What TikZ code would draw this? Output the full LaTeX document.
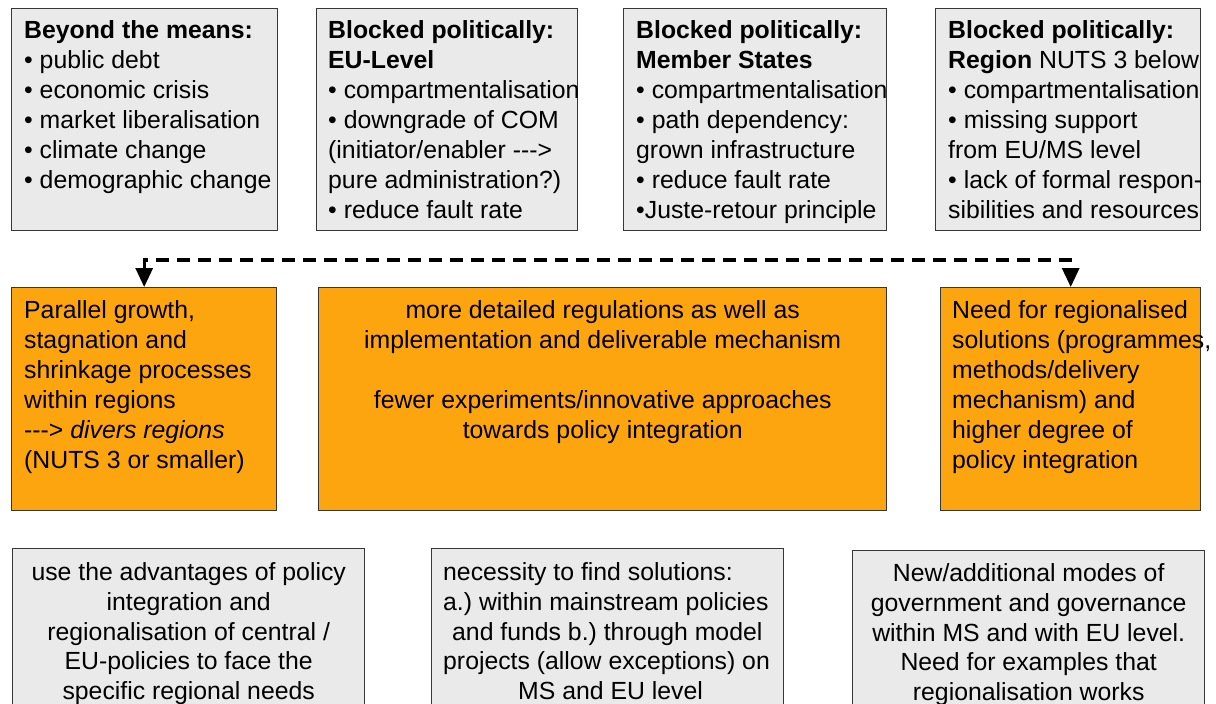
\documentclass[tikz,border=0pt]{standalone}
\usepackage{fontspec}
\setmainfont{Liberation Sans}
\usetikzlibrary{arrows.meta}
\definecolor{boxgray}{RGB}{234,234,234}
\definecolor{boxorange}{RGB}{253,165,15}
\definecolor{boxline}{RGB}{55,55,55}
\tikzset{
  panel/.style={draw=boxline, line width=1.4pt, inner sep=0pt, anchor=north west},
  graypanel/.style={panel, fill=boxgray},
  orangepanel/.style={panel, fill=boxorange},
  txt/.style={inner sep=0pt, font=\fontsize{24.8}{30}\selectfont},
  txtb/.style={inner sep=0pt, font=\fontsize{24.8}{29.6}\selectfont},
  dashconn/.style={line width=3.2pt, dash pattern=on 13pt off 8pt,
    {Triangle[length=19pt,width=17pt]}-{Triangle[length=19pt,width=17pt]}}
}
\begin{document}
\begin{tikzpicture}[x=1pt,y=-1pt]
\useasboundingbox (0,0) rectangle (1216,704);
% top row
\node[graypanel, minimum width=266pt, minimum height=222pt] (t1) at (11,8) {};
\node[graypanel, minimum width=261pt, minimum height=222pt] (t2) at (316,8) {};
\node[graypanel, minimum width=263pt, minimum height=222pt] (t3) at (623,8) {};
\node[graypanel, minimum width=265pt, minimum height=222pt] (t4) at (935,8) {};
% orange row
\node[orangepanel, minimum width=265pt, minimum height=223pt] (o1) at (11,287) {};
\node[orangepanel, minimum width=568pt, minimum height=223pt] (o2) at (318,287) {};
\node[orangepanel, minimum width=260pt, minimum height=223pt] (o3) at (940,287) {};
% bottom row
\node[graypanel, minimum width=352pt, minimum height=180pt] (b1) at (12,548) {};
\node[graypanel, minimum width=352pt, minimum height=180pt] (b2) at (431,548) {};
\node[graypanel, minimum width=352pt, minimum height=180pt] (b3) at (852,550) {};

% texts top
\node[txt, align=left, anchor=north west] (t1x) at ([xshift=13pt,yshift=-9.5pt]t1.north west)
 {\strut\textbf{Beyond the means:}\\ • public debt\\ • economic crisis\\ • market liberalisation\\ • climate change\\ • demographic change};
\node[txt, align=left, anchor=north west] (t2x) at ([xshift=12pt,yshift=-9.5pt]t2.north west)
 {\strut\textbf{Blocked politically:}\\ \textbf{EU-Level}\\ • compartmentalisation\\ • downgrade of COM\\ (initiator/enabler -{}-{}->\\ pure administration?)\\ • reduce fault rate};
\node[txt, align=left, anchor=north west] (t3x) at ([xshift=13pt,yshift=-9.5pt]t3.north west)
 {\strut\textbf{Blocked politically:}\\ \textbf{Member States}\\ • compartmentalisation\\ • path dependency:\\ grown infrastructure\\ • reduce fault rate\\ •Juste-retour principle};
\node[txt, align=left, anchor=north west] (t4x) at ([xshift=13pt,yshift=-9.5pt]t4.north west)
 {\strut\textbf{Blocked politically:}\\ \textbf{Region} NUTS 3 below\\ • compartmentalisation\\ • missing support\\ from EU/MS level\\ • lack of formal respon-\\ sibilities and resources};

% texts orange
\node[txt, align=left, anchor=north west] (o1x) at ([xshift=13pt,yshift=-10pt]o1.north west)
 {\strut Parallel growth,\\ stagnation and\\ shrinkage processes\\ within regions\\ -{}-{}-> \textit{divers regions}\\ (NUTS 3 or smaller)};
\node[txt, align=center, anchor=north] (o2x) at ([yshift=-10pt]o2.north)
 {\strut more detailed regulations as well as\\ implementation and deliverable mechanism\\[30pt] fewer experiments/innovative approaches\\ towards policy integration};
\node[txt, align=left, anchor=north west] (o3x) at ([xshift=12pt,yshift=-10pt]o3.north west)
 {\strut Need for regionalised\\ solutions (programmes,\\ methods/delivery\\ mechanism) and\\ higher degree of\\ policy integration};

% texts bottom
\node[txtb, align=center, anchor=north] (b1x) at ([yshift=-12pt]b1.north)
 {\strut use the advantages of policy\\ integration and\\ regionalisation of central /\\ EU-policies to face the\\ specific regional needs};
\node[txtb, align=left, anchor=north west] (b2x) at ([xshift=12pt,yshift=-12pt]b2.north west)
 {\strut necessity to find solutions:\\ a.)\ within mainstream policies\\ \hspace*{9pt}and funds b.)\ through model\\ projects (allow exceptions) on\\ \hspace*{75pt}MS and EU level};
\node[txtb, align=center, anchor=north] (b3x) at ([yshift=-11pt]b3.north)
 {\strut New/additional modes of\\ government and governance\\ within MS and with EU level.\\ Need for examples that\\ regionalisation works};

% dashed connector
\coordinate (dl) at (143,260);
\draw[dashconn] (o1.north) -- (o1.north |- dl) -- (o3.north |- dl) -- (o3.north);
\end{tikzpicture}
\end{document}
